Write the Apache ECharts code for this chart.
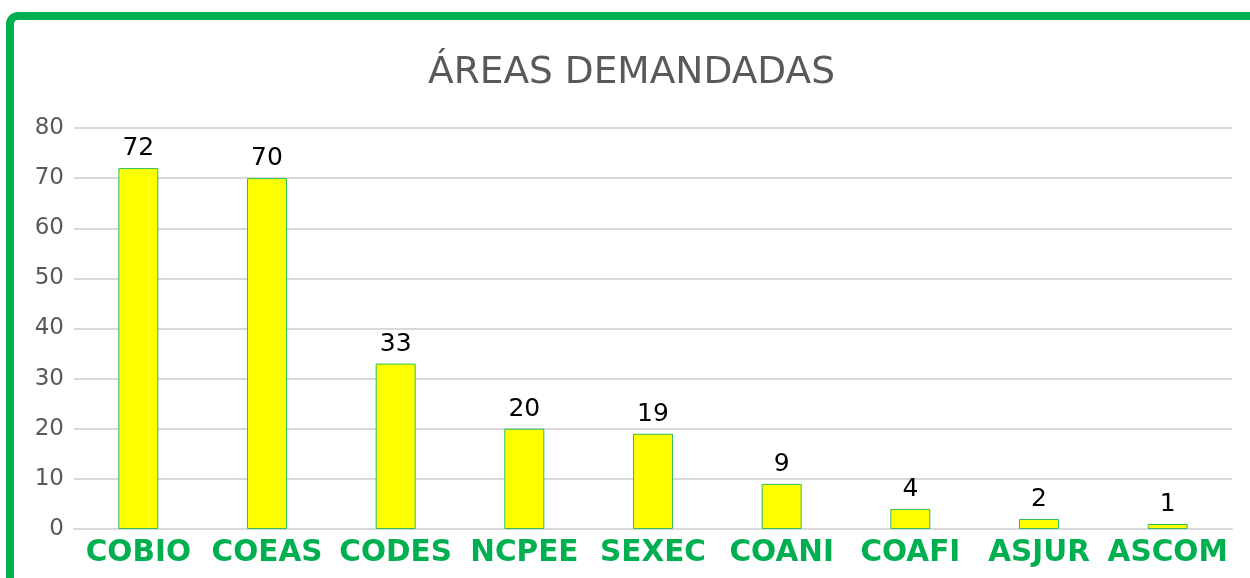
<!DOCTYPE html>
<html>
<head>
<meta charset="utf-8">
<script src="https://cdn.jsdelivr.net/npm/echarts@6/dist/echarts.min.js"></script>
<style>
html,body{margin:0;padding:0;background:#fff;}
#c{width:1250px;height:578px;}
</style>
</head>
<body>
<div id="c"></div>
<script>
const categories = ['COBIO','COEAS','CODES','NCPEE','SEXEC','COANI','COAFI','ASJUR','ASCOM'];
const values = [72,70,33,20,19,9,4,2,1];
const yTicks = {min:0, max:80, interval:10};

const chart = echarts.init(document.getElementById('c'));
chart.setOption({
  backgroundColor:'#fff',
  animation:false,
  graphic:[{
    type:'rect',
    shape:{x:10,y:16,width:1400,height:800,r:8},
    style:{fill:'none',stroke:'#00B050',lineWidth:8},
    z:100
  }],
  title:{
    text:'ÁREAS DEMANDADAS',
    left:428,
    top:54,
    padding:0,
    textStyle:{fontFamily:'DejaVu Sans',fontSize:37.5,fontWeight:'normal',color:'#595959'}
  },
  grid:{left:74,right:18,top:128,bottom:49,containLabel:false},
  xAxis:{
    type:'category',
    data:categories,
    axisLine:{show:true,lineStyle:{color:'#D9D9D9',width:2}},
    axisTick:{show:false},
    axisLabel:{
      interval:0,
      margin:9,
      fontFamily:'DejaVu Sans',
      fontWeight:'bold',
      fontSize:29.5,
      color:'#00B050'
    }
  },
  yAxis:{
    type:'value',
    min:yTicks.min,max:yTicks.max,interval:yTicks.interval,
    axisLine:{show:false},
    axisTick:{show:false},
    splitLine:{lineStyle:{color:'#D9D9D9',width:2}},
    axisLabel:{margin:10,fontFamily:'DejaVu Sans',fontSize:23,color:'#595959'}
  },
  series:[{
    type:'bar',
    data:values,
    barWidth:40,
    itemStyle:{color:'#FFFF00',borderColor:'#2DBE5A',borderWidth:1},
    label:{
      show:true,
      position:'top',
      distance:7,
      fontFamily:'DejaVu Sans',
      fontSize:25,
      color:'#000'
    }
  }]
});
</script>
</body>
</html>
